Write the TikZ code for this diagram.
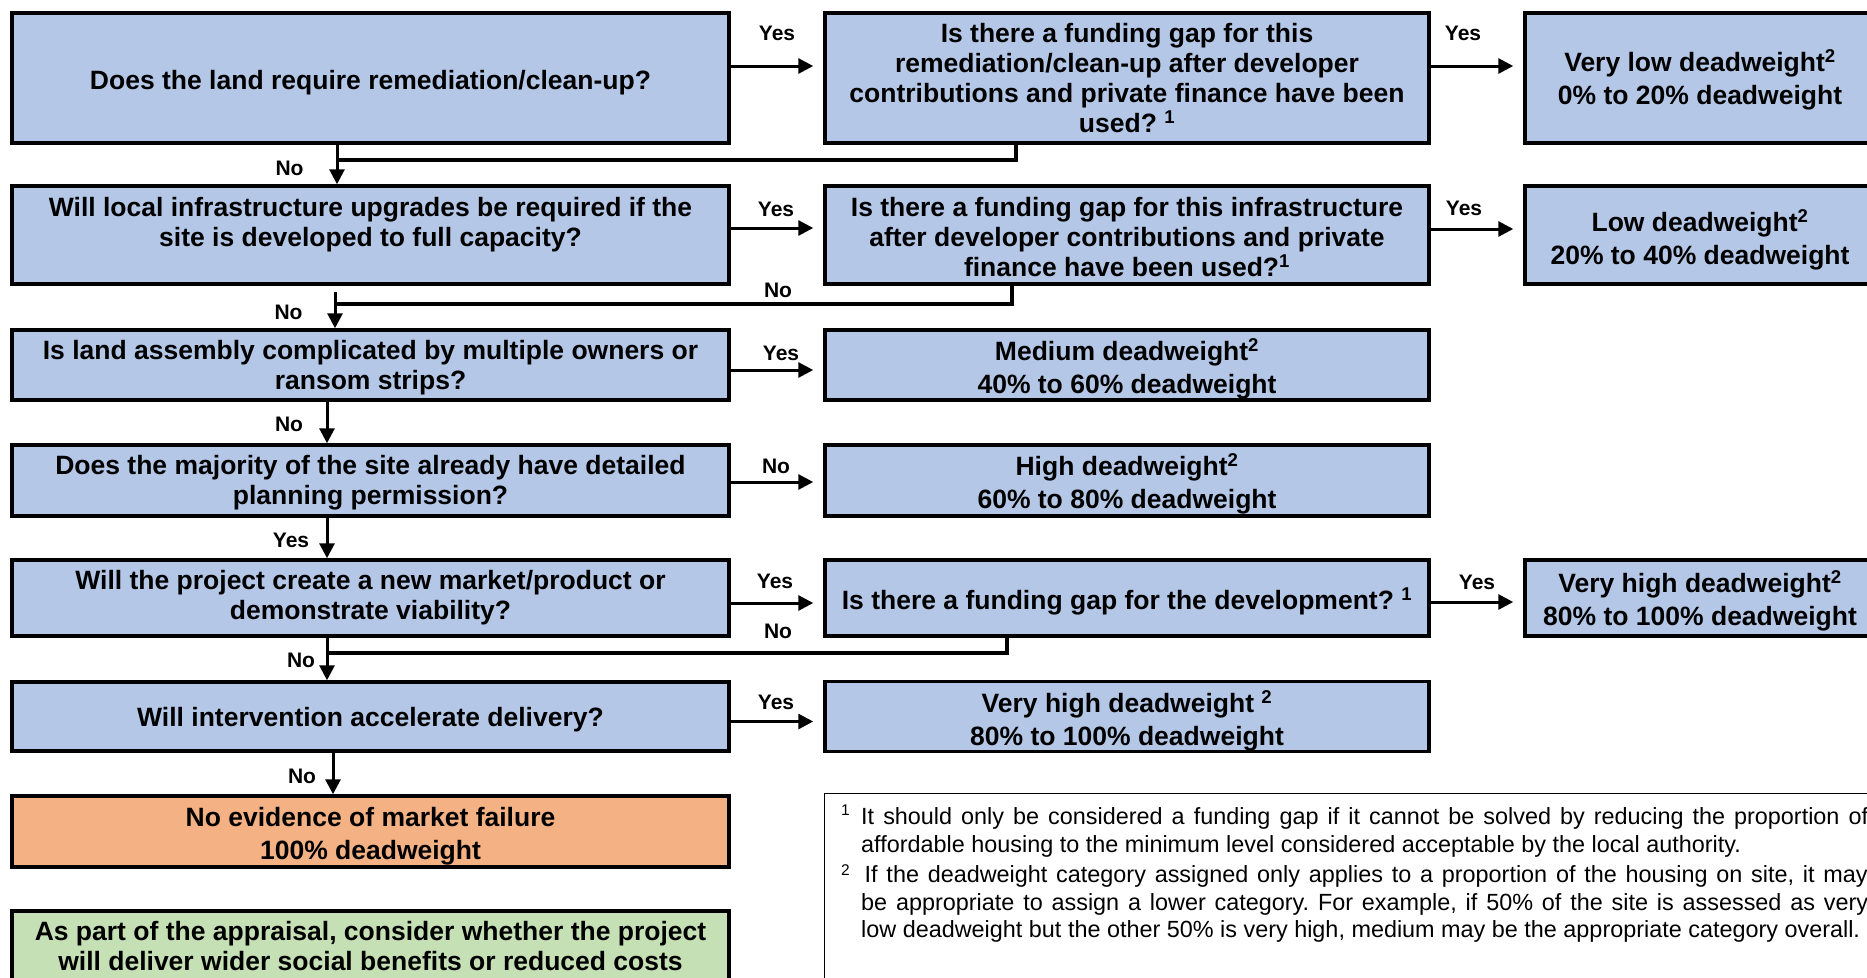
\documentclass[tikz,border=0pt]{standalone}
\usepackage{fontspec}
\setmainfont{Liberation Sans}
\usetikzlibrary{arrows.meta,calc}
\definecolor{boxblue}{HTML}{B4C7E7}
\definecolor{boxorange}{HTML}{F4B183}
\definecolor{boxgreen}{HTML}{C5E0B4}
\frenchspacing
% invisible strut that sets the height of a box's first text line
\newcommand\tstrut[1]{\rule{0pt}{#1pt}}

\begin{document}
\begin{tikzpicture}[x=1pt,y=-1pt,
  box/.style={draw=black, line width=3.5pt, fill=boxblue, inner sep=0pt, align=center,
    font=\bfseries\fontsize{26.5}{30}\selectfont},
  leftbox/.style={box, minimum width=717pt},
  midbox/.style={box, minimum width=604pt},
  rightbox/.style={box, minimum width=350pt},
  arr/.style={line width=3pt, -{Triangle[length=15pt,width=15pt]}},
  harr/.style={arr, shorten >=10pt},
  joinline/.style={line width=4pt},
  lbl/.style={font=\bfseries\fontsize{21}{24}\selectfont, inner sep=0pt},
  note/.style={font=\fontsize{23.4}{28}\selectfont, inner sep=0pt, anchor=base west},
  notemark/.style={font=\fontsize{15.5}{18}\selectfont, inner sep=0pt, anchor=base west},
  ]
\useasboundingbox (0,0) rectangle (1867,977);
\clip (0,0) rectangle (1867,977);
\fill[white] (0,0) rectangle (1867,977);

% question column
\node[leftbox, minimum height=130pt] (q1) at (370.5,78) {\tstrut{28.6}Does the land require remediation/clean-up?};
\node[leftbox, minimum height=98pt] (q2) at (370.5,235) {\tstrut{22.6}Will local infrastructure upgrades be required if the\\ site is developed to full capacity?\\ \mbox{}};
\node[leftbox, minimum height=70pt] (q3) at (370.5,365) {\tstrut{23.8}Is land assembly complicated by multiple owners or\\ ransom strips?};
\node[leftbox, minimum height=71pt] (q4) at (370.5,480.5) {\tstrut{22.6}Does the majority of the site already have detailed\\ planning permission?};
\node[leftbox, minimum height=76pt] (q5) at (370.5,598) {Will the project create a new market/product or\\ demonstrate viability?};
\node[leftbox, minimum height=69pt] (q6) at (370.5,716.5) {\tstrut{26.2}Will intervention accelerate delivery?};
\node[leftbox, fill=boxorange, minimum height=71pt] (nofail) at (370.5,831.5) {\tstrut{28.6}No evidence of market failure\\[3pt] 100\% deadweight};
\node[leftbox, fill=boxgreen, minimum height=70pt] (wider) at (370.5,946) {As part of the appraisal, consider whether the project\\ will deliver wider social benefits or reduced costs};

% funding gap / outcome column
\node[midbox, minimum height=130pt] (g1) at (1127,78) {Is there a funding gap for this\\ remediation/clean-up after developer\\ contributions and private finance have been\\ used? \textsuperscript{1}};
\node[midbox, minimum height=98pt] (g2) at (1127,235) {\tstrut{22.6}Is there a funding gap for this infrastructure\\ after developer contributions and private\\ finance have been used?\textsuperscript{1}};
\node[midbox, minimum height=70pt] (med) at (1127,365) {\tstrut{29}Medium deadweight\textsuperscript{2}\\[3pt] 40\% to 60\% deadweight};
\node[midbox, minimum height=71pt] (high) at (1127,480.5) {\tstrut{29}High deadweight\textsuperscript{2}\\[3pt] 60\% to 80\% deadweight};
\node[midbox, minimum height=76pt] (g5) at (1127,598) {\tstrut{29}Is there a funding gap for the development? \textsuperscript{1}};
\node[midbox, minimum height=69pt] (vhigh2) at (1127,716.5) {\tstrut{31.4}Very high deadweight \textsuperscript{2}\\[3pt] 80\% to 100\% deadweight};

% outcome column
\node[rightbox, minimum height=130pt] (vlow) at (1700,78) {\tstrut{26.6}Very low deadweight\textsuperscript{2}\\[3pt] 0\% to 20\% deadweight};
\node[rightbox, minimum height=98pt] (low) at (1700,235) {\tstrut{31.4}Low deadweight\textsuperscript{2}\\[3pt] 20\% to 40\% deadweight};
\node[rightbox, minimum height=76pt] (vhigh1) at (1700,598) {\tstrut{27.8}Very high deadweight\textsuperscript{2}\\[3pt] 80\% to 100\% deadweight};

% footnotes
\node[draw=black, line width=1.2pt, fill=white, minimum width=1080pt, minimum height=220pt,
  anchor=north west, inner sep=0pt] (notes) at (824,793) {};
\node[notemark] (fn1mark) at (841,815) {1};
\node[note] (fn1a) at (861,824) {\hbox to 1007pt{It should only be considered a funding gap if it cannot be solved by reducing the proportion of}};
\node[note] (fn1b) at (861,852) {affordable housing to the minimum level considered acceptable by the local authority.};
\node[notemark] (fn2mark) at (841,875) {2};
\node[note] (fn2a) at (864.5,882) {\hbox to 1003pt{If the deadweight category assigned only applies to a proportion of the housing on site, it may}};
\node[note] (fn2b) at (861,910) {\hbox to 1007pt{be appropriate to assign a lower category. For example, if 50\% of the site is assessed as very}};
\node[note] (fn2c) at (861,937) {low deadweight but the other 50\% is very high, medium may be the appropriate category overall.};

% row 1
\draw[harr] ($(q1.east)+(0,-12)$) -- ($(g1.west)+(0,-12)$);
\draw[harr] ($(g1.east)+(0,-12)$) -- ($(vlow.west)+(0,-12)$);
\coordinate (j1) at ($(q1.south)+(-33.5,15)$);
\draw[arr] ($(q1.south)+(-33.5,0)$) -- ($(q2.north)+(-33.5,0)$);
\draw[joinline] ($(g1.south)+(-111,0)$) |- (j1);

% row 2
\draw[harr] ($(q2.east)+(0,-7)$) -- ($(g2.west)+(0,-7)$);
\draw[harr] ($(g2.east)+(0,-6)$) -- ($(low.west)+(0,-6)$);
\coordinate (j2) at ($(q2.south)+(-35.5,18)$);
\draw[arr, shorten <=6pt] ($(q2.south)+(-35.5,0)$) -- ($(q3.north)+(-35.5,0)$);
\draw[joinline] ($(g2.south)+(-115,0)$) |- (j2);

% row 3
\draw[harr] ($(q3.east)+(0,5)$) -- ($(med.west)+(0,5)$);
\draw[arr] ($(q3.south)+(-43.5,0)$) -- ($(q4.north)+(-43.5,0)$);

% row 4
\draw[harr] ($(q4.east)+(0,1.5)$) -- ($(high.west)+(0,1.5)$);
\draw[arr] ($(q4.south)+(-43.5,0)$) -- ($(q5.north)+(-43.5,0)$);

% row 5
\draw[harr] ($(q5.east)+(0,5)$) -- ($(g5.west)+(0,5)$);
\draw[harr] ($(g5.east)+(0,4)$) -- ($(vhigh1.west)+(0,4)$);
\coordinate (j5) at ($(q5.south)+(-43.5,15)$);
\draw[arr] ($(q5.south)+(-43.5,0)$) -- ($(q6.north)+(-43.5,0)$);
\draw[joinline] ($(g5.south)+(-120,0)$) |- (j5);

% row 6
\draw[harr] ($(q6.east)+(0,5)$) -- ($(vhigh2.west)+(0,5)$);
\draw[arr] ($(q6.south)+(-37.5,0)$) -- ($(nofail.north)+(-37.5,0)$);

% branch labels
\node[lbl] (yes1) at (777,33) {Yes};
\node[lbl] (yes2) at (1463,33) {Yes};
\node[lbl] (no1) at (289.5,168) {No};
\node[lbl] (yes3) at (776,209) {Yes};
\node[lbl] (yes4) at (1464,208) {Yes};
\node[lbl] (no2) at (778,290) {No};
\node[lbl] (no3) at (288.5,312) {No};
\node[lbl] (yes5) at (781,353) {Yes};
\node[lbl] (no4) at (289,424) {No};
\node[lbl] (no5) at (776,466) {No};
\node[lbl] (yes6) at (291,540) {Yes};
\node[lbl] (yes7) at (775,581) {Yes};
\node[lbl] (no6) at (778,631) {No};
\node[lbl] (yes8) at (1477,582) {Yes};
\node[lbl] (no7) at (301,660) {No};
\node[lbl] (yes9) at (776,702) {Yes};
\node[lbl] (no8) at (302,776) {No};
\end{tikzpicture}
\end{document}
